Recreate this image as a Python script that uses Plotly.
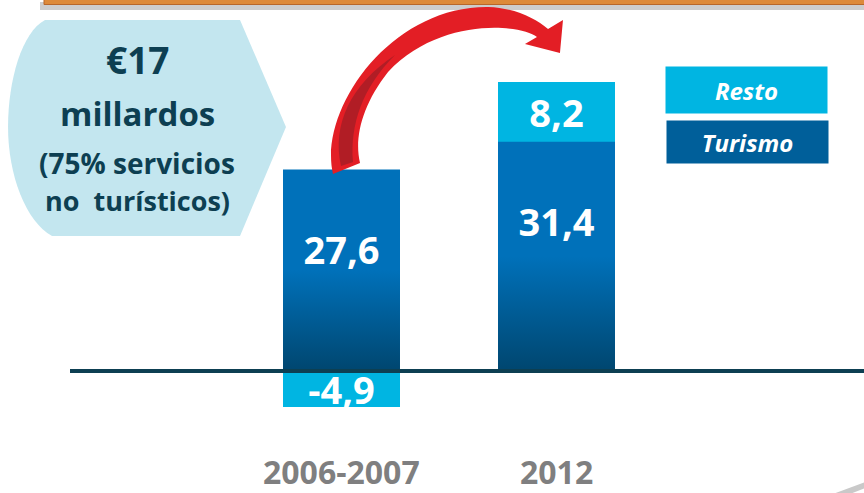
import plotly.graph_objects as go

# data
categories = ["2006-2007", "2012"]
turismo = [27.6, 31.4]
resto = [-4.9, 8.2]
series_names = ["Resto", "Turismo"]
headline = ["€17", "millardos", "(75% servicios", "no\u00a0 turísticos)"]

W, H = 864, 493
x_pos = [0, 1]
bar_w = 0.544

DARK_TEAL = "#0d3f52"
RESTO_C = "#00b5e2"
TURISMO_TOP = "#0071ba"
TURISMO_BOT = "#00466f"
FONT = "Open Sans"


def fmt(v):
    return f"{v:.1f}".replace(".", ",")


def px(x, y):
    # pixel -> paper coords (margins are zero)
    return f"{x / W:.4f},{1 - y / H:.4f}"


def svg_path(cmds):
    out = []
    for c in cmds:
        op, pts = c[0], c[1:]
        out.append(op + " ".join(px(*p) for p in pts))
    return " ".join(out) + " Z"


fig = go.Figure()

fig.add_trace(go.Bar(
    x=x_pos, y=turismo, width=bar_w, name=series_names[1],
    marker=dict(color=TURISMO_TOP, line_width=0),
    hoverinfo="skip",
))
fig.add_trace(go.Bar(
    x=x_pos, y=resto, width=bar_w, name=series_names[0],
    marker=dict(color=RESTO_C, line_width=0),
    text=[fmt(v) for v in resto], textposition="inside",
    insidetextanchor="middle", constraintext="none",
    textfont=dict(family=FONT, size=38, color="white", weight=700),
))

# vertical gradient on the Turismo bars, one outline per bar built from the data
for xc, v in zip(x_pos, turismo):
    fig.add_trace(go.Scatter(
        x=[xc - bar_w / 2, xc + bar_w / 2, xc + bar_w / 2, xc - bar_w / 2, xc - bar_w / 2],
        y=[0, 0, v, v, 0],
        mode="lines", line_width=0, fill="toself",
        fillgradient=dict(type="vertical",
                          colorscale=[[0, TURISMO_BOT], [0.5, TURISMO_TOP], [1, TURISMO_TOP]]),
        hoverinfo="skip", showlegend=False,
    ))
    # label sits a fixed distance below the top of the bar
    fig.add_trace(go.Scatter(
        x=[xc], y=[v - 11.6], mode="text", text=[fmt(v)],
        textfont=dict(family=FONT, size=38, color="white", weight=700),
        hoverinfo="skip", showlegend=False,
    ))

shapes = []
# orange banner at the top with its shadow
shapes.append(dict(type="rect", xref="paper", yref="paper", x0=40 / W, x1=1.01,
                   y0=1 - 10 / H, y1=1 - 2 / H, fillcolor="rgba(90,90,90,0.3)", line_width=0, layer="below"))
shapes.append(dict(type="rect", xref="paper", yref="paper", x0=44 / W, x1=1.01,
                   y0=1 - 4.5 / H, y1=1.02, fillcolor="#dd8a3a", line=dict(color="#b8672a", width=1), layer="above"))

# light blue callout on the left
bubble = svg_path([
    ("M", (45, 20)), ("L", (240, 20)), ("L", (286, 127)), ("L", (240, 236)), ("L", (52, 236)),
    ("C", (26, 222), (8, 175), (8, 127)), ("C", (8, 80), (22, 32), (45, 20)),
])
shapes.append(dict(type="path", xref="paper", yref="paper", path=bubble,
                   fillcolor="#c3e6ef", line_width=0, layer="below"))

# red curved arrow
arrow = svg_path([
    ("M", (333, 174)), ("C", (318, 110), (390, 6), (488, 7)), ("C", (515, 8), (535, 18), (548, 29)),
    ("L", (563, 20)), ("L", (560, 53)), ("L", (525, 44)), ("L", (537, 37)),
    ("C", (520, 24), (440, 17), (388, 72)), ("C", (362, 105), (354, 138), (360, 163)),
])
shapes.append(dict(type="path", xref="paper", yref="paper", path=arrow,
                   fillcolor="#e31e25", line_width=0, layer="above"))
shade = svg_path([
    ("M", (341, 166)), ("C", (332, 125), (350, 85), (395, 55)),
    ("C", (362, 88), (350, 125), (353, 162)),
])
shapes.append(dict(type="path", xref="paper", yref="paper", path=shade,
                   fillcolor="#b11d25", line_width=0, layer="above"))

# zero line
shapes.append(dict(type="line", xref="paper", yref="y", x0=70 / W, x1=1, y0=0, y1=0,
                   line=dict(color=DARK_TEAL, width=4), layer="above"))

# grey sliver in the bottom-right corner
corner = svg_path([("M", (833, 494)), ("L", (865, 482)), ("L", (865, 488)), ("L", (850, 494))])
shapes.append(dict(type="path", xref="paper", yref="paper", path=corner,
                   fillcolor="#c9c9c9", line_width=0, layer="below"))

annotations = []
head_y = [60, 113, 163, 200]
head_size = [37, 33, 28, 27]
for txt, yy, sz in zip(headline, head_y, head_size):
    annotations.append(dict(x=137 / W, y=1 - yy / H, xref="paper", yref="paper", text=txt,
                            showarrow=False, xanchor="center", yanchor="middle",
                            font=dict(family=FONT, size=sz, color=DARK_TEAL, weight=700)))

for xc, cat in zip(x_pos, categories):
    annotations.append(dict(x=xc, y=1 - 471 / H, xref="x", yref="paper", text=cat,
                            showarrow=False, xanchor="center", yanchor="middle",
                            font=dict(family=FONT, size=32, color="#7f7f80", weight=700)))

# legend boxes
legend_boxes = [(series_names[0], RESTO_C, 746.5, 90, 46), (series_names[1], "#005f9a", 747.5, 142, 42)]
for name, col, cx, cy, hgt in legend_boxes:
    annotations.append(dict(x=cx / W, y=1 - cy / H, xref="paper", yref="paper", text=f"<i>{name}</i>",
                            showarrow=False, xanchor="center", yanchor="middle",
                            width=161, height=hgt, bgcolor=col, borderpad=0,
                            font=dict(family=FONT, size=24, color="white", weight=700)))

ppu = 7.3        # pixels per unit on the value axis
zero_px = 371
fig.update_layout(
    width=W, height=H,
    margin=dict(l=0, r=0, t=0, b=0),
    barmode="relative",
    bargap=0,
    separators=",.",
    showlegend=False,
    plot_bgcolor="white", paper_bgcolor="white",
    xaxis=dict(visible=False, range=[-341.5 / 215, (W - 341.5) / 215]),
    yaxis=dict(visible=False, range=[-(H - zero_px) / ppu, zero_px / ppu]),
    shapes=shapes,
    annotations=annotations,
)

fig.write_html("out.html", config={"displayModeBar": False},
               post_script="document.body.style.margin='0';")
